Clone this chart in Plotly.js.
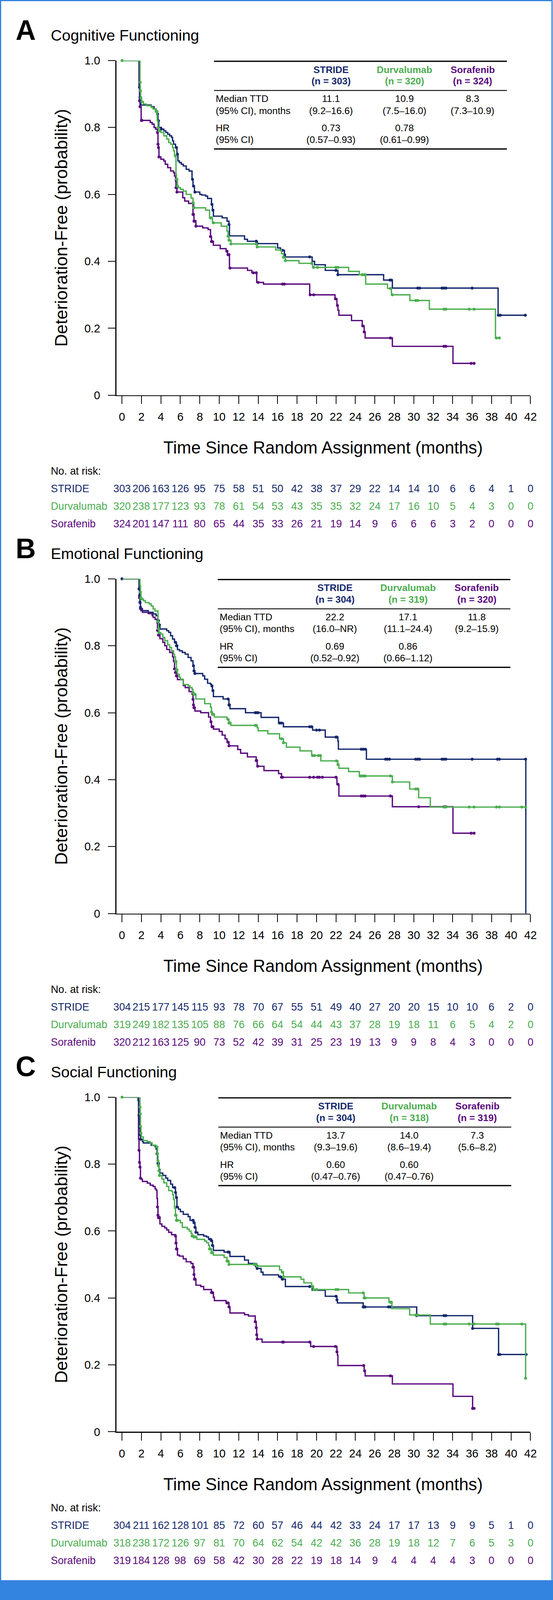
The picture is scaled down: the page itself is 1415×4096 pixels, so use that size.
<!DOCTYPE html>
<html><head><meta charset="utf-8">
<script src="https://cdn.plot.ly/plotly-3.0.1.min.js"></script>
<style>html,body{margin:0;padding:0;background:#fff;overflow:hidden}#chart{width:1415px;height:4096px}</style>
</head><body><div id="chart"></div>
<script>
// ---------------- DATA ----------------
const ARM_NAMES = ['STRIDE', 'Durvalumab', 'Sorafenib'];
const PANEL_LETTERS = ['A', 'B', 'C'];
const PANEL_TITLES = ['Cognitive Functioning', 'Emotional Functioning', 'Social Functioning'];
const X_TICKS = [0,2,4,6,8,10,12,14,16,18,20,22,24,26,28,30,32,34,36,38,40,42];
const Y_TICKS = [0, 0.2, 0.4, 0.6, 0.8, 1.0];
const Y_TICK_TEXT = ['0', '0.2', '0.4', '0.6', '0.8', '1.0'];
const X_TITLE = 'Time Since Random Assignment (months)';
const Y_TITLE = 'Deterioration-Free (probability)';

// Panel A – Cognitive functioning
const A_STRIDE_T = [0,1.76,1.8,1.85,1.94,3.0,3.3,3.5,3.63,3.7,3.78,4.05,4.3,4.5,4.7,4.9,5.1,5.2,5.3,5.5,5.65,5.75,5.9,6.1,6.3,6.6,6.9,7.2,7.3,7.45,8.0,8.2,8.6,8.8,9.2,9.3,9.4,10.3,10.8,11.0,11.05,12.6,12.9,13.9,16.0,16.3,16.7,16.8,19.55,19.8,20.9,22.2,26.9,27.8,38.67];
const A_STRIDE_S = [1.0,0.97,0.92,0.89,0.867,0.862,0.855,0.848,0.84,0.82,0.80,0.795,0.79,0.785,0.78,0.775,0.77,0.76,0.75,0.74,0.72,0.70,0.695,0.69,0.685,0.675,0.67,0.645,0.625,0.607,0.60,0.598,0.595,0.588,0.57,0.553,0.535,0.53,0.52,0.51,0.476,0.466,0.46,0.453,0.44,0.433,0.42,0.413,0.40,0.39,0.373,0.36,0.344,0.32,0.239];
const A_STRIDE_END = 41.47;
const A_STRIDE_CENS = [1.8,1.85,1.9,3.65,3.75,4.05,5.6,5.7,7.25,7.35,7.5,9.25,9.35,11.0,13.8,13.9,16.5,16.7,19.3,22.0,22.2,27.55,27.7,30.4,30.6,32.9,33.1,33.3,36.0,38.7,38.9,41.47];

const A_DURVA_T = [0,1.85,1.88,1.92,2.0,2.2,2.5,3.0,3.2,3.47,3.62,3.7,3.78,4.0,4.3,4.6,4.8,5.0,5.2,5.3,5.4,5.55,5.6,5.7,5.8,6.0,6.3,6.6,7.1,7.3,7.4,8.6,9.0,9.3,10.2,10.8,10.9,11.0,11.2,13.9,15.8,16.4,16.6,16.8,18.2,19.6,23.3,24.4,25.05,27.3,27.7,29.6,31.6,38.4];
const A_DURVA_S = [1.0,0.935,0.91,0.888,0.877,0.87,0.865,0.86,0.855,0.848,0.82,0.80,0.79,0.785,0.775,0.765,0.755,0.75,0.74,0.73,0.715,0.66,0.645,0.625,0.62,0.615,0.61,0.60,0.589,0.575,0.56,0.553,0.53,0.515,0.505,0.49,0.475,0.463,0.452,0.443,0.434,0.423,0.412,0.402,0.394,0.382,0.370,0.36,0.332,0.319,0.30,0.283,0.257,0.171];
const A_DURVA_END = 38.8;
const A_DURVA_CENS = [0,1.87,1.9,1.95,2.05,3.5,3.6,3.7,3.8,5.5,5.6,5.65,5.7,7.3,7.4,9.1,9.2,9.4,10.9,11.0,11.2,13.8,13.9,16.6,16.8,19.5,19.7,20.1,22.0,22.2,24.7,24.9,25.0,27.6,27.8,30.2,30.4,33.1,33.3,35.7,36.2,38.5,38.8];

const A_SORA_T = [0,1.75,1.8,1.85,1.97,2.9,3.1,3.3,3.45,3.63,3.7,3.75,3.8,4.0,4.3,4.45,4.7,5.0,5.3,5.4,5.5,5.55,5.65,6.25,6.45,6.85,7.3,7.4,7.6,8.3,8.85,9.1,9.2,9.4,10.1,10.7,10.85,11.05,12.9,13.35,13.85,14.55,19.3,21.9,22.1,22.2,22.3,23.6,24.7,24.9,25.0,27.8,34.03];
const A_SORA_S = [1.0,0.92,0.88,0.862,0.821,0.815,0.81,0.80,0.795,0.785,0.75,0.74,0.712,0.705,0.70,0.69,0.68,0.67,0.665,0.655,0.64,0.62,0.607,0.59,0.58,0.573,0.54,0.52,0.505,0.50,0.495,0.474,0.459,0.448,0.438,0.43,0.42,0.38,0.373,0.366,0.337,0.332,0.30,0.288,0.268,0.254,0.239,0.223,0.207,0.189,0.171,0.146,0.095];
const A_SORA_END = 36.2;
const A_SORA_CENS = [1.8,1.85,2.0,2.05,3.65,3.7,3.75,3.8,5.55,5.6,5.65,7.3,7.35,7.4,7.5,7.6,9.1,9.2,9.3,10.8,10.9,11.0,11.1,13.5,13.8,14.0,16.5,16.7,19.35,19.7,21.95,22.15,24.75,24.9,27.6,33.1,33.3,35.9,36.2];

// Panel B – Emotional functioning
const B_STRIDE_T = [0,1.75,1.8,1.85,1.9,1.95,2.7,3.2,3.5,3.7,3.8,3.9,4.6,4.8,5.0,5.2,5.4,5.6,5.7,5.9,6.2,6.5,6.8,7.1,7.3,7.4,7.5,8.3,8.5,8.8,9.1,9.2,9.3,9.4,10.4,11.0,11.1,12.7,14.3,16.1,16.6,19.6,20.9,22.2,22.25,25.13,41.52];
const B_STRIDE_S = [1.0,0.97,0.95,0.93,0.915,0.905,0.90,0.895,0.89,0.875,0.862,0.85,0.845,0.84,0.83,0.82,0.81,0.80,0.789,0.785,0.78,0.775,0.765,0.755,0.74,0.725,0.717,0.71,0.70,0.688,0.685,0.68,0.666,0.648,0.641,0.623,0.612,0.60,0.586,0.569,0.558,0.548,0.527,0.515,0.491,0.461,0.0];
const B_STRIDE_END = 41.52;
const B_STRIDE_CENS = [0,1.75,1.8,1.85,1.9,3.7,3.75,3.8,3.85,5.5,5.6,5.65,7.35,7.4,7.5,9.25,9.35,10.9,11.0,11.05,13.7,13.8,13.9,14.0,16.2,16.4,19.3,19.5,20.0,20.3,22.0,22.1,24.6,24.8,25.0,27.1,27.3,27.5,30.2,30.4,30.6,32.9,33.1,33.3,36.0,38.6,38.8,41.5];

const B_DURVA_T = [0,1.85,1.9,1.95,2.0,2.2,2.4,2.8,3.0,3.2,3.4,3.7,3.75,3.8,4.0,4.2,4.4,4.7,4.9,5.1,5.3,5.4,5.5,5.6,5.7,5.9,6.0,6.3,6.8,7.0,7.2,7.3,7.4,7.6,8.5,9.1,9.2,9.3,9.5,10.8,11.0,11.2,13.9,14.0,15.0,16.2,16.6,16.9,18.3,19.5,20.44,22.2,22.3,23.3,24.4,27.8,29.58,30.5,31.7];
const B_DURVA_S = [1.0,0.98,0.96,0.944,0.94,0.935,0.929,0.925,0.919,0.91,0.904,0.872,0.85,0.839,0.835,0.825,0.815,0.803,0.795,0.785,0.775,0.767,0.753,0.728,0.715,0.706,0.70,0.684,0.68,0.675,0.67,0.66,0.655,0.641,0.627,0.616,0.602,0.595,0.587,0.58,0.569,0.562,0.555,0.546,0.537,0.522,0.51,0.497,0.486,0.472,0.456,0.445,0.434,0.424,0.411,0.393,0.372,0.346,0.318];
const B_DURVA_END = 41.5;
const B_DURVA_CENS = [1.9,1.95,2.0,3.7,3.75,3.8,5.5,5.55,5.6,5.65,7.3,7.4,7.5,9.2,9.3,9.4,10.9,11.0,11.1,13.7,13.8,16.4,16.6,19.6,19.8,20.2,20.4,22.05,22.2,24.5,24.7,24.9,25.0,27.6,27.8,30.2,30.4,33.1,33.3,35.7,36.2,38.5,38.8,41.1,41.5];

const B_SORA_T = [0,1.75,1.8,1.85,1.9,2.1,2.7,3.1,3.2,3.4,3.6,3.65,3.75,3.9,4.2,4.4,4.6,4.9,5.2,5.3,5.4,5.5,5.6,5.7,6.3,6.5,6.9,7.2,7.3,7.35,7.4,7.5,8.1,8.9,9.1,9.2,9.4,10.0,10.3,10.6,10.8,11.0,11.9,12.2,12.9,13.8,13.9,14.6,16.1,16.4,22.1,22.3,27.8,34.03];
const B_SORA_S = [1.0,0.97,0.944,0.929,0.911,0.90,0.896,0.89,0.885,0.879,0.868,0.846,0.832,0.821,0.81,0.80,0.789,0.78,0.767,0.753,0.731,0.72,0.71,0.699,0.681,0.675,0.663,0.655,0.64,0.623,0.615,0.605,0.60,0.587,0.573,0.558,0.551,0.544,0.533,0.522,0.512,0.501,0.49,0.479,0.468,0.457,0.44,0.427,0.418,0.407,0.386,0.351,0.319,0.24];
const B_SORA_END = 36.2;
const B_SORA_CENS = [1.8,1.85,1.9,3.65,3.7,3.75,3.8,5.4,5.5,5.6,5.65,7.3,7.35,7.4,7.45,9.15,9.25,9.35,10.9,11.0,13.8,13.85,13.95,16.4,16.5,19.3,19.7,20.1,20.3,20.6,22.0,22.2,24.6,24.8,25.0,27.6,30.5,33.1,33.3,35.9,36.2];

// Panel C – Social functioning
const C_STRIDE_T = [0,1.65,1.72,1.75,1.78,1.8,1.85,1.9,2.1,2.2,3.0,3.4,3.5,3.6,3.65,3.7,3.8,3.9,4.2,4.5,4.7,5.0,5.2,5.5,5.55,5.65,5.8,6.0,6.3,6.8,7.0,7.4,7.5,7.6,7.8,8.4,8.7,8.9,9.2,9.3,9.4,10.5,11.1,12.6,13.0,13.8,13.9,14.3,14.5,16.1,16.4,16.8,19.55,20.9,22.1,22.15,24.8,30.3,36.05,38.72];
const C_STRIDE_S = [1.0,0.99,0.971,0.946,0.921,0.91,0.888,0.874,0.867,0.863,0.856,0.852,0.845,0.831,0.81,0.802,0.784,0.773,0.766,0.758,0.751,0.74,0.73,0.715,0.70,0.672,0.665,0.658,0.65,0.643,0.632,0.625,0.611,0.596,0.589,0.585,0.582,0.575,0.571,0.557,0.542,0.537,0.524,0.513,0.503,0.495,0.488,0.477,0.469,0.463,0.456,0.434,0.423,0.405,0.394,0.385,0.373,0.347,0.309,0.231];
const C_STRIDE_END = 41.55;
const C_STRIDE_CENS = [1.75,1.8,1.85,1.9,3.6,3.7,3.75,5.4,5.5,5.6,5.65,7.3,7.4,7.5,7.6,9.1,9.2,9.3,10.9,11.0,13.8,13.9,16.3,16.5,19.3,22.0,22.1,24.8,24.9,25.0,27.4,27.6,30.3,33.1,33.3,36.05,38.72,38.85,41.55];

const C_DURVA_T = [0,1.85,1.88,1.9,1.95,2.0,2.2,2.6,2.9,3.1,3.5,3.65,3.7,3.75,3.8,3.85,4.1,4.3,4.6,4.8,5.1,5.2,5.3,5.4,5.5,5.6,6.0,6.2,6.7,6.9,7.1,7.2,7.4,7.7,8.5,8.7,8.9,9.0,9.2,9.4,10.5,10.8,11.0,13.9,16.2,16.4,16.6,18.4,18.7,19.5,19.7,23.3,24.9,27.45,27.75,29.58,31.7,41.5];
const C_DURVA_S = [1.0,0.97,0.95,0.913,0.892,0.881,0.87,0.867,0.863,0.856,0.851,0.831,0.809,0.795,0.78,0.766,0.755,0.744,0.733,0.721,0.719,0.708,0.694,0.668,0.647,0.632,0.625,0.611,0.606,0.60,0.593,0.585,0.582,0.575,0.57,0.565,0.557,0.546,0.535,0.528,0.521,0.51,0.50,0.495,0.484,0.477,0.463,0.456,0.445,0.434,0.425,0.415,0.40,0.387,0.368,0.349,0.322,0.16];
const C_DURVA_END = 41.5;
const C_DURVA_CENS = [0,1.85,1.88,1.9,1.95,3.6,3.65,3.7,3.75,3.8,3.85,5.5,5.55,5.6,5.65,5.7,7.2,7.3,7.4,7.6,9.0,9.1,9.2,9.3,10.8,10.9,11.0,13.6,13.7,13.8,13.9,16.5,16.6,19.6,19.7,20.0,22.0,22.2,24.8,24.9,25.0,27.6,27.7,30.2,30.4,33.1,33.3,35.7,36.2,38.5,38.7,41.1,41.5];

const C_SORA_T = [0,1.7,1.75,1.8,1.85,1.9,1.95,2.1,2.6,2.9,3.2,3.4,3.5,3.6,3.65,3.7,3.75,3.9,4.1,4.4,4.6,4.8,5.1,5.5,5.55,5.6,5.7,5.9,6.3,6.6,7.1,7.3,7.4,7.45,7.6,8.1,8.4,9.2,9.4,9.5,10.7,11.0,11.1,12.6,13.0,13.7,13.8,13.85,13.9,14.4,19.4,22.1,22.15,22.2,24.9,25.0,27.8,34.03,36.05];
const C_SORA_S = [1.0,0.874,0.841,0.805,0.791,0.758,0.755,0.748,0.743,0.737,0.733,0.726,0.722,0.697,0.672,0.647,0.64,0.621,0.614,0.609,0.603,0.596,0.589,0.585,0.564,0.546,0.528,0.525,0.517,0.508,0.503,0.492,0.47,0.456,0.438,0.434,0.425,0.416,0.402,0.392,0.385,0.373,0.355,0.35,0.346,0.329,0.311,0.29,0.277,0.268,0.255,0.239,0.229,0.198,0.182,0.167,0.143,0.106,0.07];
const C_SORA_END = 36.2;
const C_SORA_CENS = [1.75,1.8,1.85,1.9,3.65,3.7,3.75,3.8,3.85,5.5,5.55,5.6,5.65,7.3,7.35,7.4,7.45,7.5,9.2,9.3,10.8,10.9,11.0,13.7,13.8,13.85,13.9,16.5,16.6,19.3,19.7,21.95,22.1,24.85,24.95,27.6,36.05,36.2];

// Tables (STRIDE, Durvalumab, Sorafenib)
const A_N = [303, 320, 324];
const A_MED = ['11.1', '10.9', '8.3'];
const A_MED_CI = ['(9.2–16.6)', '(7.5–16.0)', '(7.3–10.9)'];
const A_HR = ['0.73', '0.78', ''];
const A_HR_CI = ['(0.57–0.93)', '(0.61–0.99)', ''];
const B_N = [304, 319, 320];
const B_MED = ['22.2', '17.1', '11.8'];
const B_MED_CI = ['(16.0–NR)', '(11.1–24.4)', '(9.2–15.9)'];
const B_HR = ['0.69', '0.86', ''];
const B_HR_CI = ['(0.52–0.92)', '(0.66–1.12)', ''];
const C_N = [304, 318, 319];
const C_MED = ['13.7', '14.0', '7.3'];
const C_MED_CI = ['(9.3–19.6)', '(8.6–19.4)', '(5.6–8.2)'];
const C_HR = ['0.60', '0.60', ''];
const C_HR_CI = ['(0.47–0.76)', '(0.47–0.76)', ''];

// Numbers at risk (every 2 months, 0–42)
const A_RISK_STRIDE = [303,206,163,126,95,75,58,51,50,42,38,37,29,22,14,14,10,6,6,4,1,0];
const A_RISK_DURVA  = [320,238,177,123,93,78,61,54,53,43,35,35,32,24,17,16,10,5,4,3,0,0];
const A_RISK_SORA   = [324,201,147,111,80,65,44,35,33,26,21,19,14,9,6,6,6,3,2,0,0,0];
const B_RISK_STRIDE = [304,215,177,145,115,93,78,70,67,55,51,49,40,27,20,20,15,10,10,6,2,0];
const B_RISK_DURVA  = [319,249,182,135,105,88,76,66,64,54,44,43,37,28,19,18,11,6,5,4,2,0];
const B_RISK_SORA   = [320,212,163,125,90,73,52,42,39,31,25,23,19,13,9,9,8,4,3,0,0,0];
const C_RISK_STRIDE = [304,211,162,128,101,85,72,60,57,46,44,42,33,24,17,17,13,9,9,5,1,0];
const C_RISK_DURVA  = [318,238,172,126,97,81,70,64,62,54,42,42,36,28,19,18,12,7,6,5,3,0];
const C_RISK_SORA   = [319,184,128,98,69,58,42,30,28,22,19,18,14,9,4,4,4,4,3,0,0,0];

// ---------------- LAYOUT / DRAWING ----------------
const W = 1415, H = 4096, S = 0.745;
const FONT = '"Liberation Sans", Arial, Helvetica, sans-serif';
const COLORS = ['#15296d', '#4cae50', '#5a0a7e'];   // STRIDE, Durvalumab, Sorafenib
const FRAME = '#3383e0';
const XP = v => (v * S) / W;        // reference px -> paper x
const YP = v => 1 - (v * S) / H;    // reference px -> paper y

const X0PX = 419, X42PX = 1822, YAXPX = 399.5;
const MPX = (X42PX - X0PX) / 42;
const PLOT_H = 1150;

const panels = [
  {top: 208,  tableX: [735, 1741], colX: [1136.5, 1389, 1623], labelX: 740,
   n: A_N, med: A_MED, medCI: A_MED_CI, hr: A_HR, hrCI: A_HR_CI,
   risk: [A_RISK_STRIDE, A_RISK_DURVA, A_RISK_SORA],
   curves: [[A_STRIDE_T, A_STRIDE_S, A_STRIDE_END, A_STRIDE_CENS], [A_DURVA_T, A_DURVA_S, A_DURVA_END, A_DURVA_CENS], [A_SORA_T, A_SORA_S, A_SORA_END, A_SORA_CENS]]},
  {top: 1989, tableX: [748, 1753], colX: [1150, 1401.5, 1637], labelX: 753,
   n: B_N, med: B_MED, medCI: B_MED_CI, hr: B_HR, hrCI: B_HR_CI,
   risk: [B_RISK_STRIDE, B_RISK_DURVA, B_RISK_SORA],
   curves: [[B_STRIDE_T, B_STRIDE_S, B_STRIDE_END, B_STRIDE_CENS], [B_DURVA_T, B_DURVA_S, B_DURVA_END, B_DURVA_CENS], [B_SORA_T, B_SORA_S, B_SORA_END, B_SORA_CENS]]},
  {top: 3770, tableX: [750, 1756], colX: [1153, 1405, 1639.5], labelX: 755,
   n: C_N, med: C_MED, medCI: C_MED_CI, hr: C_HR, hrCI: C_HR_CI,
   risk: [C_RISK_STRIDE, C_RISK_DURVA, C_RISK_SORA],
   curves: [[C_STRIDE_T, C_STRIDE_S, C_STRIDE_END, C_STRIDE_CENS], [C_DURVA_T, C_DURVA_S, C_DURVA_END, C_DURVA_CENS], [C_SORA_T, C_SORA_S, C_SORA_END, C_SORA_CENS]]}
];

function stepAt(t, s, c) {
  let v = s[0];
  for (let i = 0; i < t.length; i++) { if (t[i] <= c + 1e-9) v = s[i]; else break; }
  return v;
}

const traces = [];
const annotations = [];
const shapes = [];
const layout = {
  width: W, height: H, margin: {l: 0, r: 0, t: 0, b: 0},
  paper_bgcolor: '#fff', plot_bgcolor: 'rgba(0,0,0,0)',
  showlegend: false, font: {family: FONT, color: '#000'},
  annotations: annotations, shapes: shapes
};

function ann(o) {
  annotations.push(Object.assign({showarrow: false, xref: 'paper', yref: 'paper', borderpad: 0}, o));
}

panels.forEach((p, i) => {
  const suf = i === 0 ? '' : String(i + 1);
  const T = p.top, Z = T + PLOT_H;
  layout['xaxis' + suf] = {
    domain: [XP(YAXPX), XP(X42PX)], range: [(YAXPX - X0PX) / MPX, 42], anchor: 'y' + suf,
    tickmode: 'array', tickvals: X_TICKS, ticktext: X_TICKS.map(String),
    ticks: 'outside', ticklen: 27 * S, tickwidth: 2, tickcolor: '#000', ticklabelstandoff: 8,
    showline: true, linewidth: 2.5, linecolor: '#000', showgrid: false, zeroline: false,
    tickfont: {family: FONT, size: 39 * S, color: '#000'}, fixedrange: true
  };
  layout['yaxis' + suf] = {
    domain: [YP(Z), YP(T)], range: [0, 1], anchor: 'x' + suf,
    tickmode: 'array', tickvals: Y_TICKS, ticktext: Y_TICK_TEXT,
    ticks: 'outside', ticklen: 25.5 * S, tickwidth: 2, tickcolor: '#000', ticklabelstandoff: 14,
    showline: true, linewidth: 2.5, linecolor: '#000', showgrid: false, zeroline: false,
    tickfont: {family: FONT, size: 39 * S, color: '#000'}, fixedrange: true
  };

  // curves: draw Sorafenib, STRIDE, Durvalumab (green on top)
  [2, 0, 1].forEach(k => {
    const [t, s, end, cens] = p.curves[k];
    traces.push({
      type: 'scatter', mode: 'lines', xaxis: 'x' + suf, yaxis: 'y' + suf,
      x: t.concat([end]), y: s.concat([s[s.length - 1]]),
      line: {shape: 'hv', width: 3.4, color: COLORS[k]}, cliponaxis: false, hoverinfo: 'skip'
    });
    traces.push({
      type: 'scatter', mode: 'markers', xaxis: 'x' + suf, yaxis: 'y' + suf,
      x: cens, y: cens.map(c => stepAt(t, s, c)),
      marker: {size: 7.5, color: COLORS[k], line: {width: 0}}, cliponaxis: false, hoverinfo: 'skip'
    });
  });

  // panel letter + title
  ann({text: '<b>' + PANEL_LETTERS[i] + '</b>', x: XP(52), y: YP(T - 105), xanchor: 'left', yanchor: 'middle',
       font: {family: FONT, size: 96 * S, color: '#000'}});
  ann({text: PANEL_TITLES[i], x: XP(173), y: YP(T - 87), xanchor: 'left', yanchor: 'middle',
       font: {family: FONT, size: 53 * S, color: '#000'}});

  // axis titles
  ann({text: Y_TITLE, x: XP(209.5), y: YP(T + PLOT_H / 2), xanchor: 'center', yanchor: 'middle', textangle: -90,
       font: {family: FONT, size: 60 * S, color: '#000'}});
  ann({text: X_TITLE, x: XP(1110), y: YP(Z + 179.5), xanchor: 'center', yanchor: 'middle',
       font: {family: FONT, size: 58.7 * S, color: '#000'}});

  // summary table
  [[2.5, 3.2], [103, 2.2], [304, 3.2]].forEach(([dy, w]) => {
    shapes.push({type: 'line', xref: 'paper', yref: 'paper', x0: XP(p.tableX[0]), x1: XP(p.tableX[1]),
                 y0: YP(T + dy), y1: YP(T + dy), line: {color: '#000', width: w}});
  });
  const TF = 33 * S;
  for (let k = 0; k < 3; k++) {
    ann({text: '<b>' + ARM_NAMES[k] + '</b>', x: XP(p.colX[k]), y: YP(T + 31), xanchor: 'center', yanchor: 'middle',
         font: {family: FONT, size: TF, color: COLORS[k]}});
    ann({text: '<b>(n = ' + p.n[k] + ')</b>', x: XP(p.colX[k]), y: YP(T + 70.5), xanchor: 'center', yanchor: 'middle',
         font: {family: FONT, size: TF, color: COLORS[k]}});
    const vals = [p.med[k], p.medCI[k], p.hr[k], p.hrCI[k]];
    [131, 172, 232, 272].forEach((dy, r) => {
      if (vals[r]) ann({text: vals[r], x: XP(p.colX[k]), y: YP(T + dy), xanchor: 'center', yanchor: 'middle',
                        font: {family: FONT, size: TF, color: '#000'}});
    });
  }
  ['Median TTD', '(95% CI), months', 'HR', '(95% CI)'].forEach((lab, r) => {
    ann({text: lab, x: XP(p.labelX), y: YP(T + [131, 172, 232, 272][r]), xanchor: 'left', yanchor: 'middle',
         font: {family: FONT, size: TF, color: '#000'}});
  });

  // numbers at risk
  const RF = 36 * S;
  ann({text: 'No. at risk:', x: XP(173), y: YP(Z + 261), xanchor: 'left', yanchor: 'middle',
       font: {family: FONT, size: RF, color: '#000'}});
  [321, 382, 442.5].forEach((dy, k) => {
    ann({text: ARM_NAMES[k], x: XP(173), y: YP(Z + dy), xanchor: 'left', yanchor: 'middle',
         font: {family: FONT, size: RF, color: COLORS[k]}});
    p.risk[k].forEach((v, j) => {
      ann({text: String(v), xref: 'x' + suf, x: X_TICKS[j], y: YP(Z + dy), xanchor: 'center', yanchor: 'middle',
           font: {family: FONT, size: RF, color: COLORS[k]}});
    });
  });
});

// blue frame
[[0, 0, 4, 5493], [1894, 0, 1898, 5493], [0, 0, 1898, 4]].forEach(([x0, y0, x1, y1]) => {
  shapes.push({type: 'rect', xref: 'paper', yref: 'paper', x0: XP(x0), x1: Math.min(1, XP(x1)),
               y0: Math.max(0, YP(y1)), y1: YP(y0), fillcolor: FRAME, line: {width: 0}, layer: 'above'});
});
shapes.push({type: 'rect', xref: 'paper', yref: 'paper', x0: 0, x1: 1, y0: 0, y1: YP(5430),
             fillcolor: FRAME, line: {width: 0}, layer: 'above'});

Plotly.newPlot('chart', traces, layout, {displayModeBar: false, staticPlot: true});
</script></body></html>
